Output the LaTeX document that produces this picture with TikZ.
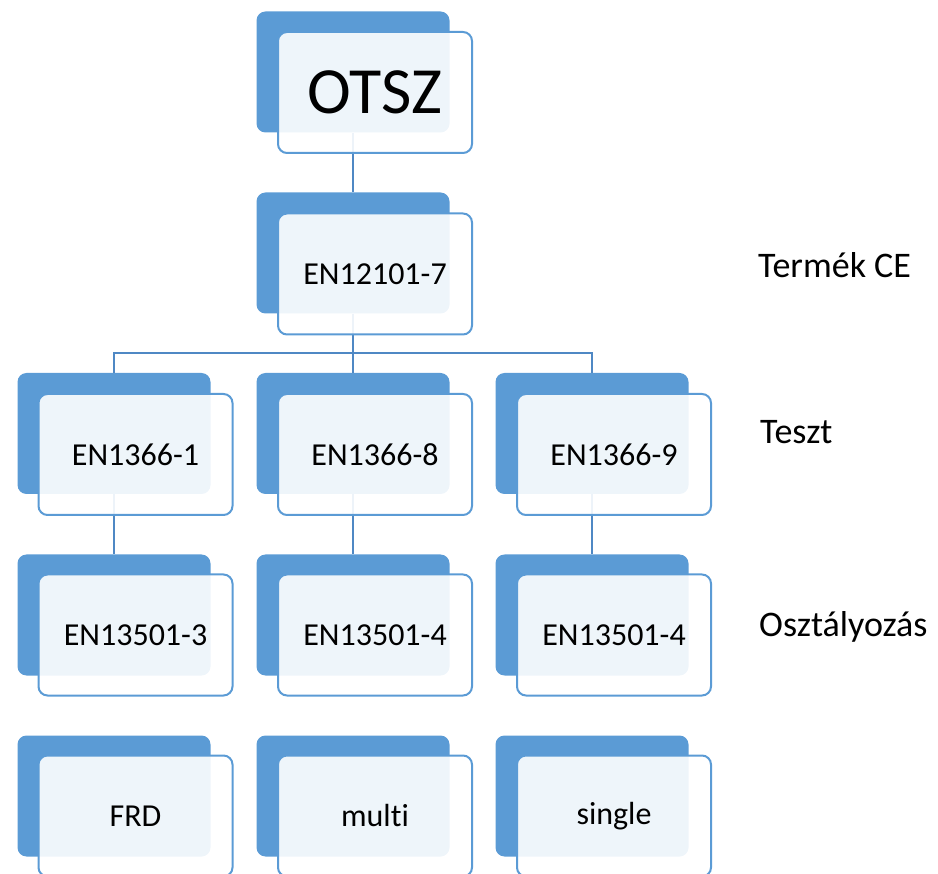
\documentclass[tikz,border=0pt]{standalone}
\usepackage{fontspec}
\setmainfont{Carlito}[Ligatures=NoCommon]
\definecolor{boxblue}{HTML}{5B9BD5}
\definecolor{lineblue}{HTML}{4F88C4}
\begin{document}
\begin{tikzpicture}[x=1pt,y=-1pt,
 backbox/.style={rectangle,rounded corners=9pt,fill=boxblue,minimum width=193pt,minimum height=121pt,inner sep=0pt},
 frontbox/.style={rectangle,rounded corners=9pt,draw=boxblue,line width=2pt,fill=white,fill opacity=0.9,text opacity=1,minimum width=194pt,minimum height=121pt,inner sep=0pt,font=\fontsize{32}{38}\selectfont},
 conn/.style={draw=lineblue,line width=2pt},
 sidelabel/.style={anchor=base west,inner sep=0pt,font=\fontsize{36}{42}\selectfont}]
\useasboundingbox (0,0) rectangle (938,874);
\clip (0,0) rectangle (938,874);
% back boxes
\node[backbox] (b00) at (353,72) {};
\node[backbox] (b10) at (353,253) {};
\node[backbox] (b20) at (114,433.5) {};
\node[backbox] (b21) at (353,433.5) {};
\node[backbox] (b22) at (592,433.5) {};
\node[backbox] (b30) at (114,615) {};
\node[backbox] (b31) at (353,615) {};
\node[backbox] (b32) at (592,615) {};
\node[backbox] (b40) at (114,796) {};
\node[backbox] (b41) at (353,796) {};
\node[backbox] (b42) at (592,796) {};
% connectors
\coordinate (hbar) at (0,353);
\draw[conn] (b00.south) -- (b10.north);
\draw[conn] (b10.south) -- (b21.north);
\draw[conn] (b20.north) -- (b20.north |- hbar) -- (b22.north |- hbar) -- (b22.north);
\draw[conn] (b20.south) -- (b30.north);
\draw[conn] (b21.south) -- (b31.north);
\draw[conn] (b22.south) -- (b32.north);
% front boxes
\node[frontbox,font=\fontsize{66}{72}\selectfont] (f00) at (375,92.5) {OTSZ};
\node[frontbox] (f10) at (375,274) {EN12101-7};
\node[frontbox] (f20) at (135.5,454.5) {EN1366-1};
\node[frontbox] (f21) at (375,454.5) {EN1366-8};
\node[frontbox] (f22) at (614,454.5) {EN1366-9};
\node[frontbox] (f30) at (135.5,635) {EN13501-3};
\node[frontbox] (f31) at (375,635) {EN13501-4};
\node[frontbox] (f32) at (614,635) {EN13501-4};
\node[frontbox] (f40) at (135.5,816) {FRD};
\node[frontbox] (f41) at (375,816) {multi};
\node[frontbox] (f42) at (614,816) {single};
% side labels
\node[sidelabel] (l1) at (758,278) {Termék CE};
\node[sidelabel] (l2) at (760,444) {Teszt};
\node[sidelabel] (l3) at (759,637) {Osztályozás};
\end{tikzpicture}
\end{document}
